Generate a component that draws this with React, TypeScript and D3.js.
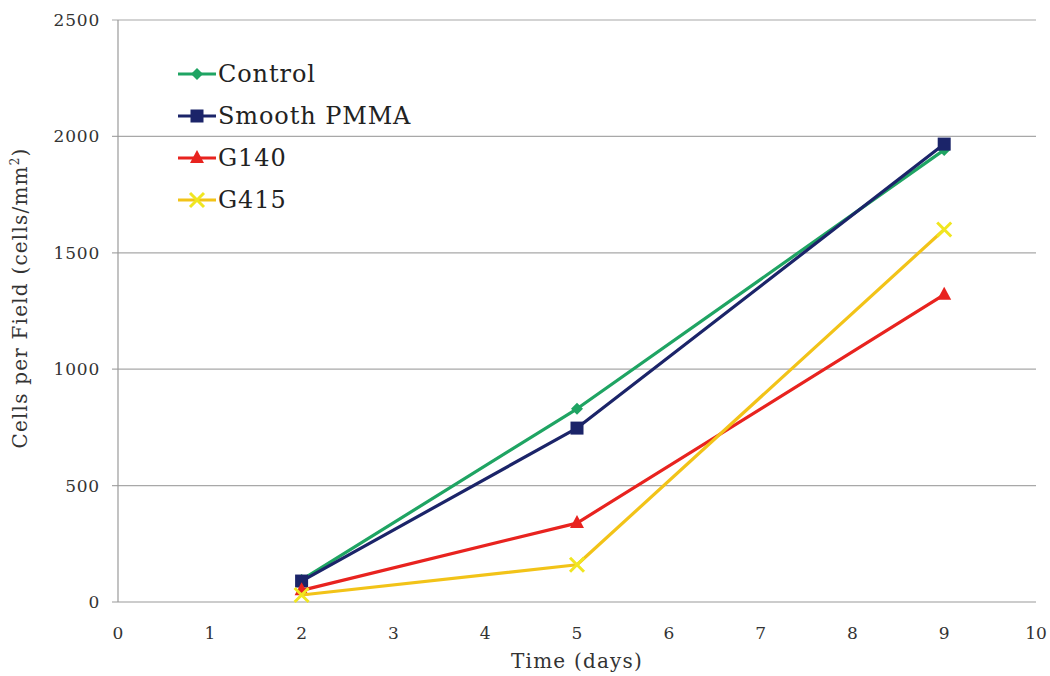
import React from "react";
import * as d3 from "d3";

const days = [2, 5, 9];
const seriesNames = ["Control", "Smooth PMMA", "G140", "G415"];
const controlValues = [95, 830, 1942];
const pmmaValues = [90, 747, 1967];
const g140Values = [50, 339, 1320];
const g415Values = [30, 160, 1600];
const seriesColors = ["#1fa463", "#1b2469", "#e8231f", "#f2c318"];
const markerColors = ["#1fa463", "#1b2469", "#e8231f", "#f0e620"];
const xTicks = [0, 1, 2, 3, 4, 5, 6, 7, 8, 9, 10];
const yTicks = [0, 500, 1000, 1500, 2000, 2500];

const W = 1050;
const H = 676;
const FONT = "'DejaVu Serif', serif";

function Marker({ kind, x, y, color }: { kind: number; x: number; y: number; color: string }) {
  if (kind === 0) {
    const s = 6;
    return <path d={`M${x},${y - s}L${x + s},${y}L${x},${y + s}L${x - s},${y}Z`} fill={color} />;
  }
  if (kind === 1) {
    return <rect x={x - 6.5} y={y - 6.5} width={13} height={13} fill={color} />;
  }
  if (kind === 2) {
    return <path d={`M${x},${y - 8}L${x + 7},${y + 5}L${x - 7},${y + 5}Z`} fill={color} />;
  }
  const s = 7;
  return (
    <path
      d={`M${x - s},${y - s}L${x + s},${y + s}M${x - s},${y + s}L${x + s},${y - s}`}
      stroke={color}
      strokeWidth={3}
    />
  );
}

export default function App() {
  const x = d3.scaleLinear().domain([0, 10]).range([118, 1036]);
  const y = d3.scaleLinear().domain([0, 2500]).range([602, 20]);
  const allValues = [controlValues, pmmaValues, g140Values, g415Values];
  const line = d3
    .line<number>()
    .x((_, i) => x(days[i]))
    .y((v) => y(v));

  return (
    <svg width={W} height={H} style={{ position: "absolute", left: 0, top: 0, background: "#fff" }}>
      {yTicks.map((t) => (
        <g key={t}>
          <line x1={112} x2={1036} y1={y(t)} y2={y(t)} stroke={t === 0 ? "#9a9a9a" : "#a8a8a8"} strokeWidth={1.2} />
          <text x={100} y={y(t)} dy="0.35em" textAnchor="end" fontFamily={FONT} fontSize={17} letterSpacing={0.8} fill="#333">
            {t}
          </text>
        </g>
      ))}
      <line x1={118} x2={118} y1={20} y2={602} stroke="#9a9a9a" strokeWidth={1.2} />
      {xTicks.map((t) => (
        <text key={t} x={x(t)} y={639} textAnchor="middle" fontFamily={FONT} fontSize={17} fill="#333">
          {t}
        </text>
      ))}
      <text x={577} y={668} textAnchor="middle" fontFamily={FONT} fontSize={20} letterSpacing={1.2} fill="#333">
        Time (days)
      </text>
      <text
        transform={`translate(27,298) rotate(-90)`}
        textAnchor="middle"
        fontFamily={FONT}
        fontSize={20}
        letterSpacing={1.2}
        fill="#333"
      >
        Cells per Field (cells/mm
        <tspan dy={-8} fontSize={12}>2</tspan>
        <tspan dy={8}>)</tspan>
      </text>

      {allValues.map((vals, si) => (
        <g key={si}>
          <path d={line(vals) ?? ""} fill="none" stroke={seriesColors[si]} strokeWidth={3.2} strokeLinejoin="round" />
          {vals.map((v, i) => (
            <Marker key={i} kind={si} x={x(days[i])} y={y(v)} color={markerColors[si]} />
          ))}
        </g>
      ))}

      {seriesNames.map((name, i) => {
        const ly = 74 + i * 42;
        return (
          <g key={name}>
            <line x1={178} x2={216} y1={ly} y2={ly} stroke={seriesColors[i]} strokeWidth={3.2} />
            <Marker kind={i} x={197} y={ly} color={markerColors[i]} />
            <text x={218} y={ly} dy="0.35em" fontFamily={FONT} fontSize={24} letterSpacing={0.9} fill="#222">
              {name}
            </text>
          </g>
        );
      })}
    </svg>
  );
}
